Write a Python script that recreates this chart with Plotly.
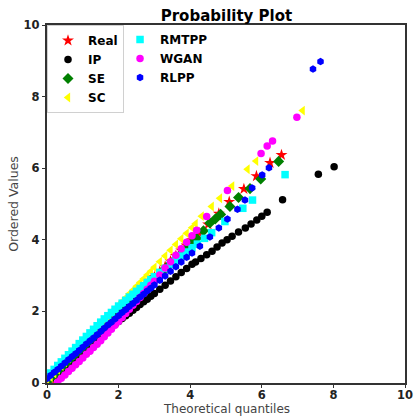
import plotly.graph_objects as go

# ---------------- data ----------------
# shared theoretical quantiles for the dense lower part of each series
q_dense = [0.0, 0.1, 0.2, 0.3, 0.4, 0.5, 0.6, 0.7, 0.8, 0.9, 1.0, 1.1, 1.2, 1.3, 1.4,
           1.5, 1.6, 1.7, 1.8, 1.9, 2.0, 2.1, 2.2, 2.3, 2.4, 2.5, 2.6, 2.7, 2.8, 2.9,
           3.0, 3.15, 3.3, 3.45, 3.6, 3.75, 3.9, 4.05]

real_y_dense = [0.02, 0.12, 0.22, 0.31, 0.41, 0.51, 0.61, 0.71, 0.80, 0.90, 1.00, 1.10,
                1.20, 1.29, 1.39, 1.49, 1.59, 1.69, 1.78, 1.88, 1.98, 2.08, 2.18, 2.27,
                2.37, 2.47, 2.57, 2.67, 2.76, 2.86, 2.96, 3.11, 3.25, 3.40, 3.55, 3.70,
                3.84, 3.99]
real_x_tail = [4.25, 4.5, 4.8, 5.09, 5.5, 5.85, 6.23, 6.55]
real_y_tail = [4.19, 4.43, 4.73, 5.06, 5.42, 5.78, 6.15, 6.37]

ip_y_dense = [0.02, 0.11, 0.19, 0.28, 0.36, 0.45, 0.54, 0.62, 0.71, 0.79, 0.88, 0.96,
              1.05, 1.13, 1.22, 1.30, 1.38, 1.47, 1.55, 1.64, 1.72, 1.80, 1.88, 1.95,
              2.03, 2.11, 2.19, 2.27, 2.34, 2.42, 2.50, 2.62, 2.73, 2.85, 2.97, 3.09,
              3.20, 3.32]
ip_x_tail = [4.15, 4.3, 4.46, 4.61, 4.75, 4.89, 5.03, 5.17, 5.35, 5.54, 5.70, 5.86,
             6.0, 6.15, 6.58, 7.58, 8.02]
ip_y_tail = [3.38, 3.48, 3.58, 3.68, 3.80, 3.91, 4.00, 4.10, 4.22, 4.33, 4.44, 4.55,
             4.66, 4.77, 5.12, 5.83, 6.04]

se_y_dense = [0.05, 0.15, 0.24, 0.34, 0.43, 0.53, 0.62, 0.72, 0.81, 0.91, 1.00, 1.10,
              1.19, 1.29, 1.38, 1.48, 1.57, 1.67, 1.76, 1.86, 1.95, 2.05, 2.14, 2.24,
              2.33, 2.43, 2.52, 2.62, 2.71, 2.81, 2.90, 3.04, 3.19, 3.33, 3.47, 3.61,
              3.76, 3.90]
se_x_tail = [4.18, 4.37, 4.55, 4.70, 4.85, 5.11, 5.35, 5.67, 5.97, 6.47]
se_y_tail = [4.04, 4.25, 4.47, 4.58, 4.71, 4.93, 5.18, 5.43, 5.70, 6.19]

sc_y_dense = [0.05, 0.16, 0.26, 0.37, 0.47, 0.58, 0.69, 0.79, 0.90, 1.00, 1.11, 1.22,
              1.32, 1.43, 1.53, 1.64, 1.75, 1.85, 1.96, 2.06, 2.17, 2.28, 2.38, 2.49,
              2.59, 2.70, 2.81, 2.91, 3.02, 3.12, 3.23, 3.39, 3.55, 3.71, 3.87, 4.03,
              4.18, 4.34]
sc_x_tail = [4.15, 4.32, 4.60, 4.83, 5.17, 5.60, 5.84, 7.14]
sc_y_tail = [4.45, 4.66, 4.93, 5.16, 5.50, 5.97, 6.20, 7.61]

rmtpp_y_dense = [0.18, 0.28, 0.38, 0.49, 0.59, 0.69, 0.79, 0.89, 0.99, 1.10, 1.20, 1.30,
                 1.40, 1.50, 1.60, 1.70, 1.79, 1.88, 1.97, 2.06, 2.15, 2.23, 2.31, 2.40,
                 2.48, 2.56, 2.64, 2.72, 2.81, 2.89, 2.97, 3.09, 3.20, 3.32, 3.43, 3.55,
                 3.66, 3.78]
rmtpp_x_tail = [4.2, 4.4, 4.6, 4.97, 5.47, 5.74, 6.65]
rmtpp_y_tail = [3.88, 4.04, 4.20, 4.51, 4.88, 5.11, 5.82]

wgan_x = [0.3, 0.4, 0.5, 0.6, 0.7, 0.8, 0.9, 1.0, 1.1, 1.2, 1.3, 1.4, 1.5, 1.6, 1.7,
          1.8, 1.9, 2.0, 2.1, 2.2, 2.3, 2.4, 2.5, 2.6, 2.7, 2.8, 2.9, 3.0, 3.15, 3.3,
          3.45, 3.6, 3.75, 3.9, 4.05, 4.18, 4.46, 5.04, 5.98, 6.15, 6.30, 6.98]
wgan_y = [0.03, 0.13, 0.22, 0.32, 0.41, 0.51, 0.60, 0.70, 0.80, 0.89, 0.99, 1.08, 1.18,
          1.29, 1.40, 1.50, 1.61, 1.72, 1.83, 1.94, 2.06, 2.17, 2.28, 2.39, 2.50, 2.62,
          2.73, 2.84, 3.02, 3.21, 3.39, 3.57, 3.75, 3.93, 4.11, 4.27, 4.65, 5.38, 6.41,
          6.62, 6.76, 7.42]

rlpp_y_dense = [0.12, 0.21, 0.30, 0.38, 0.47, 0.56, 0.65, 0.74, 0.82, 0.91, 1.00, 1.09,
                1.18, 1.26, 1.35, 1.44, 1.53, 1.62, 1.70, 1.79, 1.88, 1.97, 2.05, 2.14,
                2.22, 2.31, 2.40, 2.48, 2.57, 2.65, 2.74, 2.87, 2.99, 3.12, 3.25, 3.38,
                3.51, 3.63]
rlpp_x_tail = [4.27, 4.55, 4.80, 5.04, 5.32, 5.53, 5.73, 6.01, 6.20, 7.43, 7.64]
rlpp_y_tail = [3.82, 4.08, 4.33, 4.58, 4.85, 5.11, 5.45, 5.81, 6.01, 8.77, 8.98]

axis_ticks = [0, 2, 4, 6, 8, 10]

series = [
    ("Real", q_dense + real_x_tail, real_y_dense + real_y_tail, "star", "#ff0000", 9, "legend"),
    ("IP", q_dense + ip_x_tail, ip_y_dense + ip_y_tail, "circle", "#000000", 7.5, "legend"),
    ("SE", q_dense + se_x_tail, se_y_dense + se_y_tail, "diamond", "#008000", 8.5, "legend"),
    ("SC", q_dense + sc_x_tail, sc_y_dense + sc_y_tail, "triangle-left", "#ffff00", 8.5, "legend"),
    ("RMTPP", q_dense + rmtpp_x_tail, rmtpp_y_dense + rmtpp_y_tail, "square", "#00ffff", 7.5, "legend2"),
    ("WGAN", wgan_x, wgan_y, "circle", "#ff00ff", 7.5, "legend2"),
    ("RLPP", q_dense + rlpp_x_tail, rlpp_y_dense + rlpp_y_tail, "hexagon", "#0000ff", 7.5, "legend2"),
]

fig = go.Figure()
for name, xs, ys, sym, col, size, lg in series:
    fig.add_trace(go.Scatter(
        x=xs, y=ys, mode="markers", name=name, legend=lg,
        marker=dict(symbol=sym, color=col, size=size, line=dict(width=0)),
    ))

legend_font = dict(family="DejaVu Sans", size=12, color="#000000", weight="bold")

fig.update_layout(
    width=414, height=416,
    margin=dict(l=47, r=9, t=25, b=33, autoexpand=False),
    paper_bgcolor="white", plot_bgcolor="white",
    title=dict(text="<b>Probability Plot</b>", x=0.547, xanchor="center", y=0.962, yanchor="middle",
               font=dict(family="DejaVu Sans", size=15, color="#000000")),
    legend=dict(x=0.0, y=1.0, xanchor="left", yanchor="top", font=legend_font,
                bgcolor="rgba(255,255,255,0.8)", bordercolor="#d0d0d0", borderwidth=1,
                entrywidth=120, tracegroupgap=0, itemsizing="trace"),
    legend2=dict(x=0.204, y=1.0, xanchor="left", yanchor="top", font=legend_font,
                 bgcolor="rgba(0,0,0,0)", borderwidth=0, tracegroupgap=0, itemsizing="trace"),
    showlegend=True,
    annotations=[dict(text="Theoretical quantiles", xref="paper", yref="paper",
                      x=0.5, y=-0.095, xanchor="center", yanchor="bottom", showarrow=False,
                      borderpad=0,
                      font=dict(family="DejaVu Sans", size=12, color="#444444"))],
)

axis_common = dict(
    range=[0, 10], tickvals=axis_ticks, ticktext=[str(t) for t in axis_ticks],
    showgrid=False, zeroline=False, showline=True, mirror=True, automargin=False,
    linecolor="#333333", linewidth=1.5, ticks="outside", ticklen=3.5, tickwidth=1.2,
    tickcolor="#333333",
    tickfont=dict(family="DejaVu Sans", size=11.5, color="#222222", weight="bold"),
)
fig.update_xaxes(**axis_common, ticklabelstandoff=-3)
fig.update_yaxes(**axis_common,
                 title=dict(text="Ordered Values", standoff=2,
                            font=dict(family="DejaVu Sans", size=12.5, color="#444444")))

fig.write_html("out.html")
